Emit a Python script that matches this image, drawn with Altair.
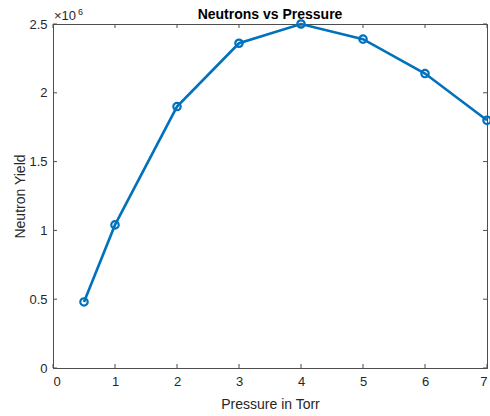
import altair as alt
import pandas as pd

pressure = [0.5, 1, 2, 3, 4, 5, 6, 7]
neutron_yield = [0.48e6, 1.04e6, 1.90e6, 2.36e6, 2.50e6, 2.39e6, 2.14e6, 1.80e6]
x_ticks = [0, 1, 2, 3, 4, 5, 6, 7]
y_ticks = [0, 0.5e6, 1.0e6, 1.5e6, 2.0e6, 2.5e6]
title_text = "Neutrons vs Pressure"

W, H = 434, 344
FONT = "Liberation Sans"
BLUE = "#0072BD"
AX = "#4d4d4d"
TXT = "#262626"

df = pd.DataFrame({"p": pressure, "y": neutron_yield})
xt = pd.DataFrame({"p": x_ticks})
yt = pd.DataFrame({"y": y_ticks})

xs = alt.Scale(domain=[0, 7], nice=False, zero=False)
ys = alt.Scale(domain=[0, 2.5e6], nice=False, zero=False)

x_axis = alt.Axis(values=x_ticks, format="d", ticks=False, grid=False, labelFont=FONT, labelFontSize=13,
                  labelColor=TXT, labelPadding=7, domainColor=AX, domainWidth=1,
                  title="Pressure in Torr", titleFont=FONT, titleFontSize=14, titleFontWeight="normal",
                  titleColor=TXT, titleBaseline="alphabetic", titleY=40, titleX=W / 2, titleAnchor="middle")
y_axis = alt.Axis(values=y_ticks, ticks=False, grid=False, labelFont=FONT, labelFontSize=13,
                  labelColor=TXT, labelPadding=6, domainColor=AX, domainWidth=1,
                  labelExpr="datum.value / 1000000",
                  title="Neutron Yield", titleFont=FONT, titleFontSize=14, titleFontWeight="normal",
                  titleColor=TXT, titleBaseline="alphabetic", titleX=-29, titleY=H / 2, titleAngle=-90,
                  titleAnchor="middle")

base = alt.Chart(df)
line = base.mark_line(color=BLUE, strokeWidth=2.6).encode(
    x=alt.X("p:Q", scale=xs, axis=x_axis),
    y=alt.Y("y:Q", scale=ys, axis=y_axis),
)
pts = base.mark_point(color=BLUE, filled=False, size=55, strokeWidth=2.2, opacity=1).encode(
    x=alt.X("p:Q", scale=xs), y=alt.Y("y:Q", scale=ys)
)

tick_style = dict(color=AX, strokeWidth=1)
bt = alt.Chart(xt).mark_rule(**tick_style).encode(x=alt.X("p:Q", scale=xs), y=alt.value(H), y2=alt.value(H - 4))
tt = alt.Chart(xt).mark_rule(**tick_style).encode(x=alt.X("p:Q", scale=xs), y=alt.value(0), y2=alt.value(4))
lt = alt.Chart(yt).mark_rule(**tick_style).encode(y=alt.Y("y:Q", scale=ys), x=alt.value(0), x2=alt.value(4))
rt = alt.Chart(yt).mark_rule(**tick_style).encode(y=alt.Y("y:Q", scale=ys), x=alt.value(W), x2=alt.value(W - 4))

exp_base = alt.Chart(pd.DataFrame({"t": ["×10"]})).mark_text(
    font=FONT, fontSize=13, color=TXT, align="left", baseline="alphabetic"
).encode(text="t:N", x=alt.value(1), y=alt.value(-4))
exp_pow = alt.Chart(pd.DataFrame({"t": ["6"]})).mark_text(
    font=FONT, fontSize=9, color=TXT, align="left", baseline="alphabetic"
).encode(text="t:N", x=alt.value(25), y=alt.value(-9))
title = alt.Chart(pd.DataFrame({"t": [title_text]})).mark_text(
    font=FONT, fontSize=14, fontWeight="bold", color="#000000", align="center", baseline="alphabetic"
).encode(text="t:N", x=alt.value(W / 2), y=alt.value(-5))

chart = alt.layer(line, pts, bt, tt, lt, rt, exp_base, exp_pow, title).properties(
    width=W, height=H,
    autosize=alt.AutoSizeParams(type="none"),
    padding={"left": 53, "top": 24, "right": 3, "bottom": 48},
    background="white",
).configure_view(stroke=AX, strokeWidth=1)

chart.save("out.html", embed_options={"renderer": "svg", "actions": False})
